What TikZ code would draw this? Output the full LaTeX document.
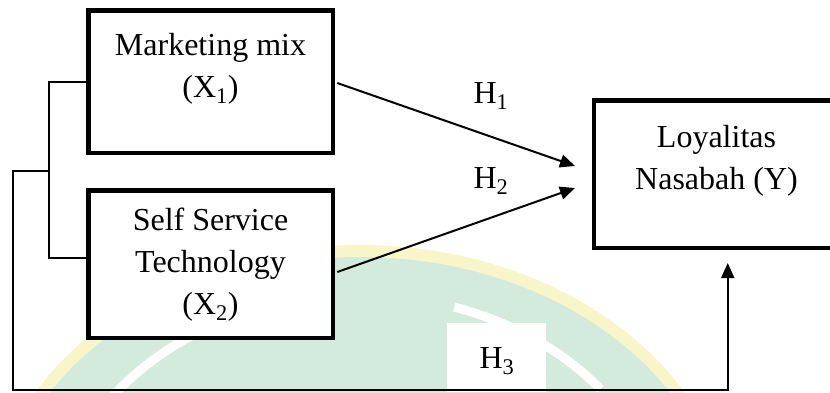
\documentclass[tikz,border=0pt]{standalone}
\usepackage{fontspec}
\setmainfont{Liberation Serif}
\usetikzlibrary{arrows.meta,calc}
\definecolor{wmgreen}{RGB}{210,235,220}
\definecolor{wmyellow}{RGB}{248,245,200}
\definecolor{wmgray}{RGB}{200,212,205}
\begin{document}
\begin{tikzpicture}[x=1pt,y=-1pt,
  box/.style={draw=black,line width=4.5pt,fill=white,inner sep=0pt},
  lbl/.style={font=\fontsize{32}{42}\selectfont,anchor=base,inner sep=0pt},
  conn/.style={line width=2pt},
  arr/.style={line width=2pt,-{Triangle[length=15pt,width=13pt]}}]
\useasboundingbox (0,0) rectangle (830,392);
% faint background watermark
\begin{scope}
  \clip (0,0) rectangle (830,392);
  \fill[wmyellow] (360,540) ellipse [x radius=375, y radius=295];
  \fill[wmgreen] (360,540) ellipse [x radius=363, y radius=283];
  \draw[white,line width=9pt] plot[domain=38:72,samples=30] ({360+305*cos(\x)},{540-245*sin(\x)});
  \draw[white,line width=9pt] plot[domain=120:148,samples=30] ({360+305*cos(\x)},{540-245*sin(\x)});
  \fill[white] (447,323) rectangle (546,392);
\end{scope}
% boxes
\node[box, minimum width=244.5pt, minimum height=142.5pt] (x1) at (210.5,81.5) {};
\node[box, minimum width=244.5pt, minimum height=147.5pt] (x2) at (210.5,264) {};
\node[box, minimum width=255.75pt, minimum height=147.5pt] (y) at (722.1,174) {};
% texts
\node[lbl] (t1) at (210.5,55) {\begin{tabular}[t]{@{}c@{}}Marketing mix\\(X\textsubscript{1})\end{tabular}};
\node[lbl] (t2) at (210.5,230) {\begin{tabular}[t]{@{}c@{}}Self Service\\Technology\\(X\textsubscript{2})\end{tabular}};
\node[lbl] (ty) at (716.5,147) {\begin{tabular}[t]{@{}c@{}}Loyalitas\\Nasabah (Y)\end{tabular}};
\node[lbl] (h1) at (491,103) {H\textsubscript{1}};
\node[lbl] (h2) at (491,188) {H\textsubscript{2}};
\node[lbl] (h3) at (497,368) {H\textsubscript{3}};
% connectors
\coordinate (j) at (49,171);
\coordinate (c1) at (13,390);
\draw[conn] (x1.west) -| (j);
\draw[conn] ($(x2.west)+(0,-6)$) -| (j);
\draw[arr] (j) -| (c1) -| ($(y.south west)+(135.75,13)$);
\draw[arr] ($(x1.east)+(2.25,1.5)$) -- ($(y.west)+(-17,-8)$);
\draw[arr] ($(x2.east)+(2.25,8)$) -- ($(y.west)+(-17,14)$);
\end{tikzpicture}
\end{document}
